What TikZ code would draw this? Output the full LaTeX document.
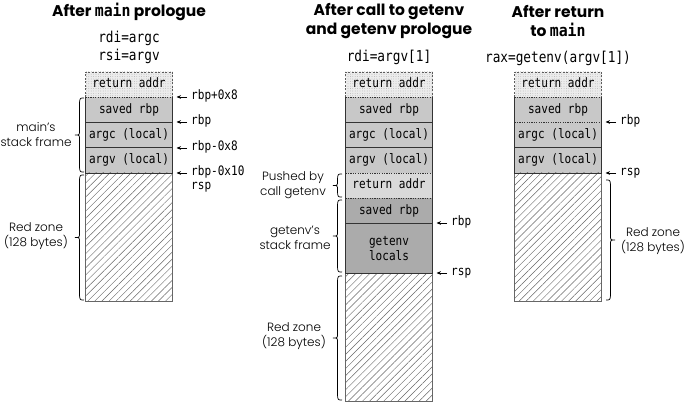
\documentclass[tikz,border=0pt]{standalone}
\usepackage{fontspec}
\setmainfont{Poppins}
\IfFontExistsTF{Poppins Light}{\newfontfamily\sidef{Poppins Light}}{\newfontfamily\sidef{Poppins}}
\newfontfamily\monof{DejaVu Sans Mono}[FakeStretch=0.85]
\newfontfamily\monot{DejaVu Sans Mono}[FakeStretch=0.9]
\usetikzlibrary{arrows.meta,patterns.meta,positioning}
\definecolor{lgray}{HTML}{ECECEC}
\definecolor{dotc}{HTML}{9A9A9A}
\definecolor{mgray}{HTML}{C8C8C8}
\definecolor{pgray}{HTML}{D9D9D9}
\definecolor{dgray}{HTML}{ABABAB}
\definecolor{hatchc}{HTML}{666666}
\definecolor{framec}{HTML}{333333}
\newcommand\tmono[1]{{\fontsize{16.5}{19}\monot #1}}
% curly brace, tip to the left: x of flat side, top y, bottom y (pixel units)
\newcommand\braceLeft[3]{%
 \pgfmathsetmacro\bmid{(#2+#3)/2}%
 \draw[brc] (#1,#2) .. controls (#1-4,#2) .. (#1-4.5,#2+4.5) -- (#1-4.5,\bmid-4.5)
   .. controls (#1-4.5,\bmid) .. (#1-9,\bmid) .. controls (#1-4.5,\bmid) .. (#1-4.5,\bmid+4.5)
   -- (#1-4.5,#3-4.5) .. controls (#1-4,#3) .. (#1,#3);}
% curly brace, tip to the right
\newcommand\braceRight[3]{%
 \pgfmathsetmacro\bmid{(#2+#3)/2}%
 \draw[brc] (#1,#2) .. controls (#1+4,#2) .. (#1+4.5,#2+4.5) -- (#1+4.5,\bmid-4.5)
   .. controls (#1+4.5,\bmid) .. (#1+9,\bmid) .. controls (#1+4.5,\bmid) .. (#1+4.5,\bmid+4.5)
   -- (#1+4.5,#3-4.5) .. controls (#1+4,#3) .. (#1,#3);}
\begin{document}
\begin{tikzpicture}[x=1pt,y=-1pt,
 cell/.style={minimum width=87pt, minimum height=25.25pt, inner sep=0pt, outer sep=0pt, anchor=north, align=center, font={\monof\fontsize{13}{15}\selectfont}},
 tx/.style={text height=9pt, text depth=2.5pt},
 ra/.style={cell, tx, fill=lgray, postaction={pattern={Dots[distance=2.4pt,radius=0.35pt]}, pattern color=dotc}},
 gc/.style={cell, tx, fill=mgray},
 pc/.style={cell, tx, fill=pgray},
 dc/.style={cell, tx, fill=dgray},
 rz/.style={cell, minimum height=128pt, pattern={Lines[angle=45,distance=5pt,line width=0.45pt]}, pattern color=hatchc},
 frame/.style={draw=framec, line width=0.8pt},
 dsep/.style={draw=framec, line width=0.7pt, dash pattern=on 1.2pt off 1.2pt},
 dbox/.style={draw=framec!80, line width=0.7pt, dash pattern=on 2pt off 1.5pt},
 rzf/.style={draw=hatchc, line width=0.8pt},
 ptr/.style={-{Stealth[length=4.5pt,width=3.6pt]}, line width=0.6pt, shorten <=4pt, shorten >=4pt},
 brc/.style={draw=black, line width=0.7pt},
 plab/.style={anchor=west, inner sep=0pt, text height=7.5pt, text depth=2.5pt, font={\monof\fontsize{13}{15}\selectfont}},
 reg/.style={inner sep=0pt, text height=10pt, text depth=3pt, font={\monof\fontsize{15}{17}\selectfont}},
 ttl/.style={inner sep=0pt, align=center, font={\fontsize{15.5}{19}\selectfont\bfseries}},
 side/.style={inner sep=0pt, align=center, font={\sidef\fontsize{12}{15}\selectfont}},
]
\useasboundingbox (0,0) rectangle (687,403);

% titles and registers
\node[ttl] (t1) at (129,12) {After \tmono{main} prologue};
\node[ttl] (t2) at (389,21.5) {After call to getenv\\and getenv prologue};
\node[ttl] (t3) at (558,21.5) {After return\\to \tmono{main}};
\node[reg] (r1) at (129,39) {rdi=argc};
\node[reg] (r2) at (129,57) {rsi=argv};
\node[reg] (r3) at (389,58) {rdi=argv[1]};
\node[reg] (r4) at (558,59) {rax=getenv(argv[1])};

% left column
\node[ra] (L1) at (129,72) {return addr};
\node[gc, below=0pt of L1] (L2) {saved rbp};
\node[gc, below=0pt of L2] (L3) {argc (local)};
\node[gc, below=0pt of L3] (L4) {argv (local)};
\node[rz, below=0pt of L4] (L5) {};
\draw[rzf] (L5.north west) rectangle (L5.south east);
\draw[frame] (L2.north west) -- (L4.south west) -- (L4.south east) -- (L2.north east);
\draw[frame] (L2.south west) -- (L2.south east);
\draw[frame] (L3.south west) -- (L3.south east);
\draw[dbox] (L1.south west) -- (L1.north west) -- (L1.north east) -- (L1.south east);
\draw[dsep] (L1.south west) -- (L1.south east);

% middle column
\node[ra] (M1) at (389,72) {return addr};
\node[gc, below=0pt of M1] (M2) {saved rbp};
\node[gc, below=0pt of M2] (M3) {argc (local)};
\node[gc, below=0pt of M3] (M4) {argv (local)};
\node[pc, below=0pt of M4] (M5) {return addr};
\node[dc, below=0pt of M5] (M6) {saved rbp};
\node[cell, fill=dgray, minimum height=50pt, below=0pt of M6] (M7) {getenv\\locals};
\node[rz, below=0pt of M7] (M8) {};
\draw[rzf] (M8.north west) rectangle (M8.south east);
\draw[frame] (M2.north west) -- (M7.south west) -- (M7.south east) -- (M2.north east);
\draw[frame] (M2.south west) -- (M2.south east);
\draw[frame] (M3.south west) -- (M3.south east);
\draw[dsep] (M4.south west) -- (M4.south east);
\draw[dsep] (M5.south west) -- (M5.south east);
\draw[frame] (M6.south west) -- (M6.south east);
\draw[dbox] (M1.south west) -- (M1.north west) -- (M1.north east) -- (M1.south east);
\draw[dsep] (M1.south west) -- (M1.south east);

% right column
\node[ra] (R1) at (558,72) {return addr};
\node[gc, below=0pt of R1] (R2) {saved rbp};
\node[gc, below=0pt of R2] (R3) {argc (local)};
\node[gc, below=0pt of R3] (R4) {argv (local)};
\node[rz, below=0pt of R4] (R5) {};
\draw[rzf] (R5.north west) rectangle (R5.south east);
\draw[frame] (R2.north west) -- (R4.south west) -- (R4.south east) -- (R2.north east);
\draw[dsep] (R2.south west) -- (R2.south east);
\draw[frame] (R3.south west) -- (R3.south east);
\draw[dbox] (R1.south west) -- (R1.north west) -- (R1.north east) -- (R1.south east);
\draw[dsep] (R1.south west) -- (R1.south east);

% pointer labels
\node[plab] (a1) at (191,97) {rbp+0x8};
\node[plab] (a2) at (191,122) {rbp};
\node[plab] (a3) at (191,148) {rbp-0x8};
\node[plab] (a4) at (191,173) {rbp-0x10};
\node[plab] (a5) at (191,187) {rsp};
\draw[ptr] (a1.west) -- (a1.west -| L1.east);
\draw[ptr] (a2.west) -- (a2.west -| L2.east);
\draw[ptr] (a3.west) -- (a3.west -| L3.east);
\draw[ptr] (a4.west) -- (a4.west -| L4.east);
\node[plab] (b1) at (451,223) {rbp};
\node[plab] (b2) at (451,273) {rsp};
\draw[ptr] (b1.west) -- (b1.west -| M6.east);
\draw[ptr] (b2.west) -- (b2.west -| M7.east);
\node[plab] (c1) at (620,122) {rbp};
\node[plab] (c2) at (620,173) {rsp};
\draw[ptr] (c1.west) -- (c1.west -| R2.east);
\draw[ptr] (c2.west) -- (c2.west -| R4.east);

% braces and side labels
\braceLeft{84}{98}{172}
\braceLeft{84}{175}{300}
\braceLeft{342}{174}{197}
\braceLeft{342}{200}{272}
\braceLeft{342}{276}{400}
\braceRight{606}{180}{300}
\node[side] (s1) at (36,135) {main’s\\stack frame};
\node[side] (s2) at (36,236) {Red zone\\(128 bytes)};
\node[side] (s3) at (293,185) {Pushed by\\call getenv};
\node[side] (s4) at (295,238) {getenv’s\\stack frame};
\node[side] (s5) at (294,336) {Red zone\\(128 bytes)};
\node[side] (s6) at (653,241) {Red zone\\(128 bytes)};
\end{tikzpicture}
\end{document}
